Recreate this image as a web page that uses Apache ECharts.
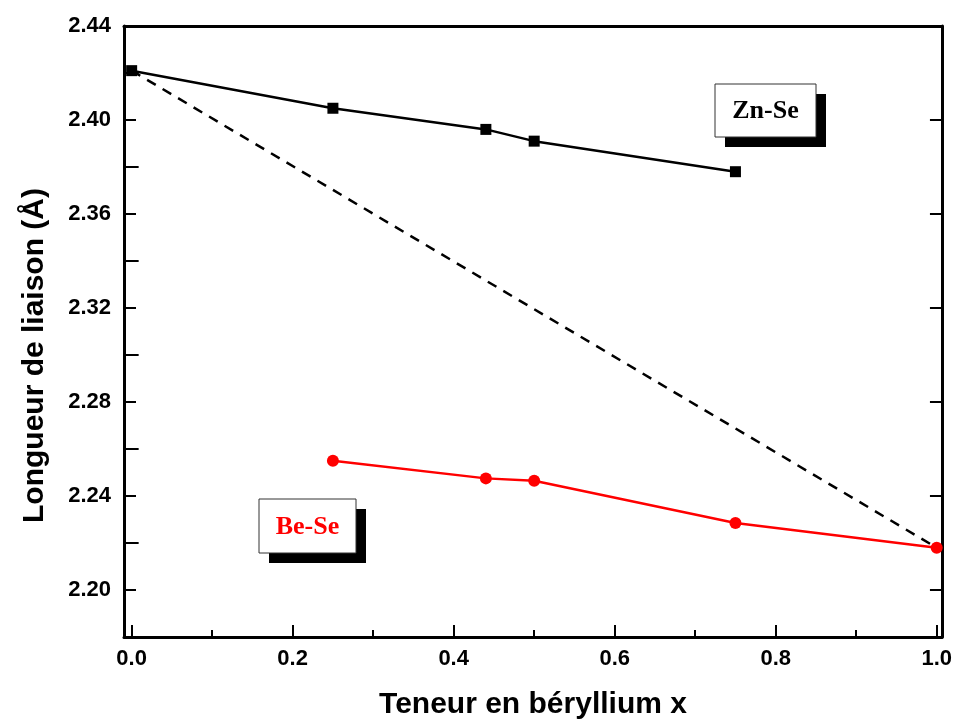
<!DOCTYPE html>
<html>
<head>
<meta charset="utf-8">
<script src="https://cdn.jsdelivr.net/npm/echarts@6/dist/echarts.min.js"></script>
<style>
  html, body { margin: 0; padding: 0; background: #fff; }
  #chart { width: 955px; height: 725px; }
</style>
</head>
<body>
<div id="chart"></div>
<script>
// bond lengths
const xZnSe = [0, 0.25, 0.44, 0.5, 0.75]
const yZnSe = [2.421, 2.405, 2.396, 2.391, 2.378]
const xBeSe = [0.25, 0.44, 0.5, 0.75, 1.0]
const yBeSe = [2.255, 2.2475, 2.2465, 2.2285, 2.218]
const vegardX = [0, 1]
const vegardY = [2.421, 2.218]

const xMajor = [0, 0.2, 0.4, 0.6, 0.8, 1.0]
const xMinor = [0.1, 0.3, 0.5, 0.7, 0.9]
const yMajor = [2.20, 2.24, 2.28, 2.32, 2.36, 2.40, 2.44]
const yMinor = [2.22, 2.26, 2.30, 2.34, 2.38, 2.42]

const font = 'Liberation Sans, Arial, sans-serif'
const serif = 'Liberation Serif, Times New Roman, serif'

const chart = echarts.init(document.getElementById('chart'))

const lineStyle = { color: '#000', width: 3 }

function xAx(opts) {
    return Object.assign({
        type: 'value', min: -0.0095, max: 1.0065, position: 'bottom',
        axisLine: { show: false, lineStyle },
        axisTick: { show: false },
        axisLabel: { show: false },
        splitLine: { show: false }
    }, opts)
}
function yAx(opts) {
    return Object.assign({
        type: 'value', min: 2.18, max: 2.44, position: 'left',
        axisLine: { show: false, lineStyle },
        axisTick: { show: false },
        axisLabel: { show: false },
        splitLine: { show: false }
    }, opts)
}

chart.setOption({
    animation: false,
    grid: { left: 124, top: 26, right: 8, bottom: 85 },
    xAxis: [
        xAx({
            axisLine: { show: true, onZero: false, lineStyle },
            axisTick: { show: true, inside: true, length: 12, customValues: xMajor, lineStyle: { color: '#000', width: 2 } },
            axisLabel: {
                show: true, customValues: xMajor, margin: 11,
                formatter: v => v.toFixed(1),
                color: '#000', fontFamily: font, fontWeight: 'bold', fontSize: 22
            },
            name: 'Teneur en béryllium x', nameLocation: 'middle', nameGap: 53,
            nameTextStyle: { color: '#000', fontFamily: font, fontWeight: 'bold', fontSize: 30 }
        }),
        xAx({ axisTick: { show: true, inside: true, length: 7, customValues: xMinor, lineStyle: { color: '#000', width: 2 } } }),
        xAx({ position: 'top', axisLine: { show: true, onZero: false, lineStyle } })
    ],
    yAxis: [
        yAx({
            axisLine: { show: true, onZero: false, lineStyle },
            axisTick: { show: true, inside: true, length: 12, customValues: yMajor, lineStyle: { color: '#000', width: 2 } },
            axisLabel: {
                show: true, customValues: yMajor, margin: 13,
                formatter: v => v.toFixed(2),
                color: '#000', fontFamily: font, fontWeight: 'bold', fontSize: 22
            },
            name: 'Longueur de liaison (Å)', nameLocation: 'middle', nameGap: 74,
            nameTextStyle: { color: '#000', fontFamily: font, fontWeight: 'bold', fontSize: 30, padding: [0, 48, 0, 0] }
        }),
        yAx({ axisTick: { show: true, inside: true, length: 7, customValues: yMinor, lineStyle: { color: '#000', width: 2 } } }),
        yAx({
            position: 'right',
            axisLine: { show: true, onZero: false, lineStyle },
            axisTick: { show: true, inside: true, length: 12, customValues: yMajor, lineStyle: { color: '#000', width: 2 } }
        }),
        yAx({
            position: 'right',
            axisTick: { show: true, inside: true, length: 7, customValues: yMinor, lineStyle: { color: '#000', width: 2 } }
        })
    ],
    series: [
        {
            name: 'Vegard',
            type: 'line',
            data: vegardX.map((x, i) => [x, vegardY[i]]),
            symbol: 'none',
            lineStyle: { color: '#000', width: 2.5, type: [10, 8] },
            z: 1
        },
        {
            name: 'Zn-Se',
            type: 'line',
            data: xZnSe.map((x, i) => [x, yZnSe[i]]),
            symbol: 'rect',
            symbolSize: 11,
            itemStyle: { color: '#000' },
            lineStyle: { color: '#000', width: 2.5 },
            z: 3
        },
        {
            name: 'Be-Se',
            type: 'line',
            data: xBeSe.map((x, i) => [x, yBeSe[i]]),
            symbol: 'circle',
            symbolSize: 12,
            itemStyle: { color: '#ff0000' },
            lineStyle: { color: '#ff0000', width: 2.5 },
            z: 3
        }
    ],
    graphic: [
        { type: 'rect', shape: { x: 725, y: 94, width: 101, height: 53 }, style: { fill: '#000' } },
        { type: 'rect', shape: { x: 715, y: 84, width: 101, height: 53 }, style: { fill: '#fff', stroke: '#333', lineWidth: 1 } },
        { type: 'text', x: 765.5, y: 111, style: { text: 'Zn-Se', fill: '#000', font: 'bold 26px ' + serif, align: 'center', verticalAlign: 'middle' } },
        { type: 'rect', shape: { x: 269, y: 509, width: 97, height: 54 }, style: { fill: '#000' } },
        { type: 'rect', shape: { x: 259, y: 499, width: 97, height: 54 }, style: { fill: '#fff', stroke: '#333', lineWidth: 1 } },
        { type: 'text', x: 307.5, y: 527, style: { text: 'Be-Se', fill: '#ff0000', font: 'bold 26px ' + serif, align: 'center', verticalAlign: 'middle' } }
    ]
})
</script>
</body>
</html>
